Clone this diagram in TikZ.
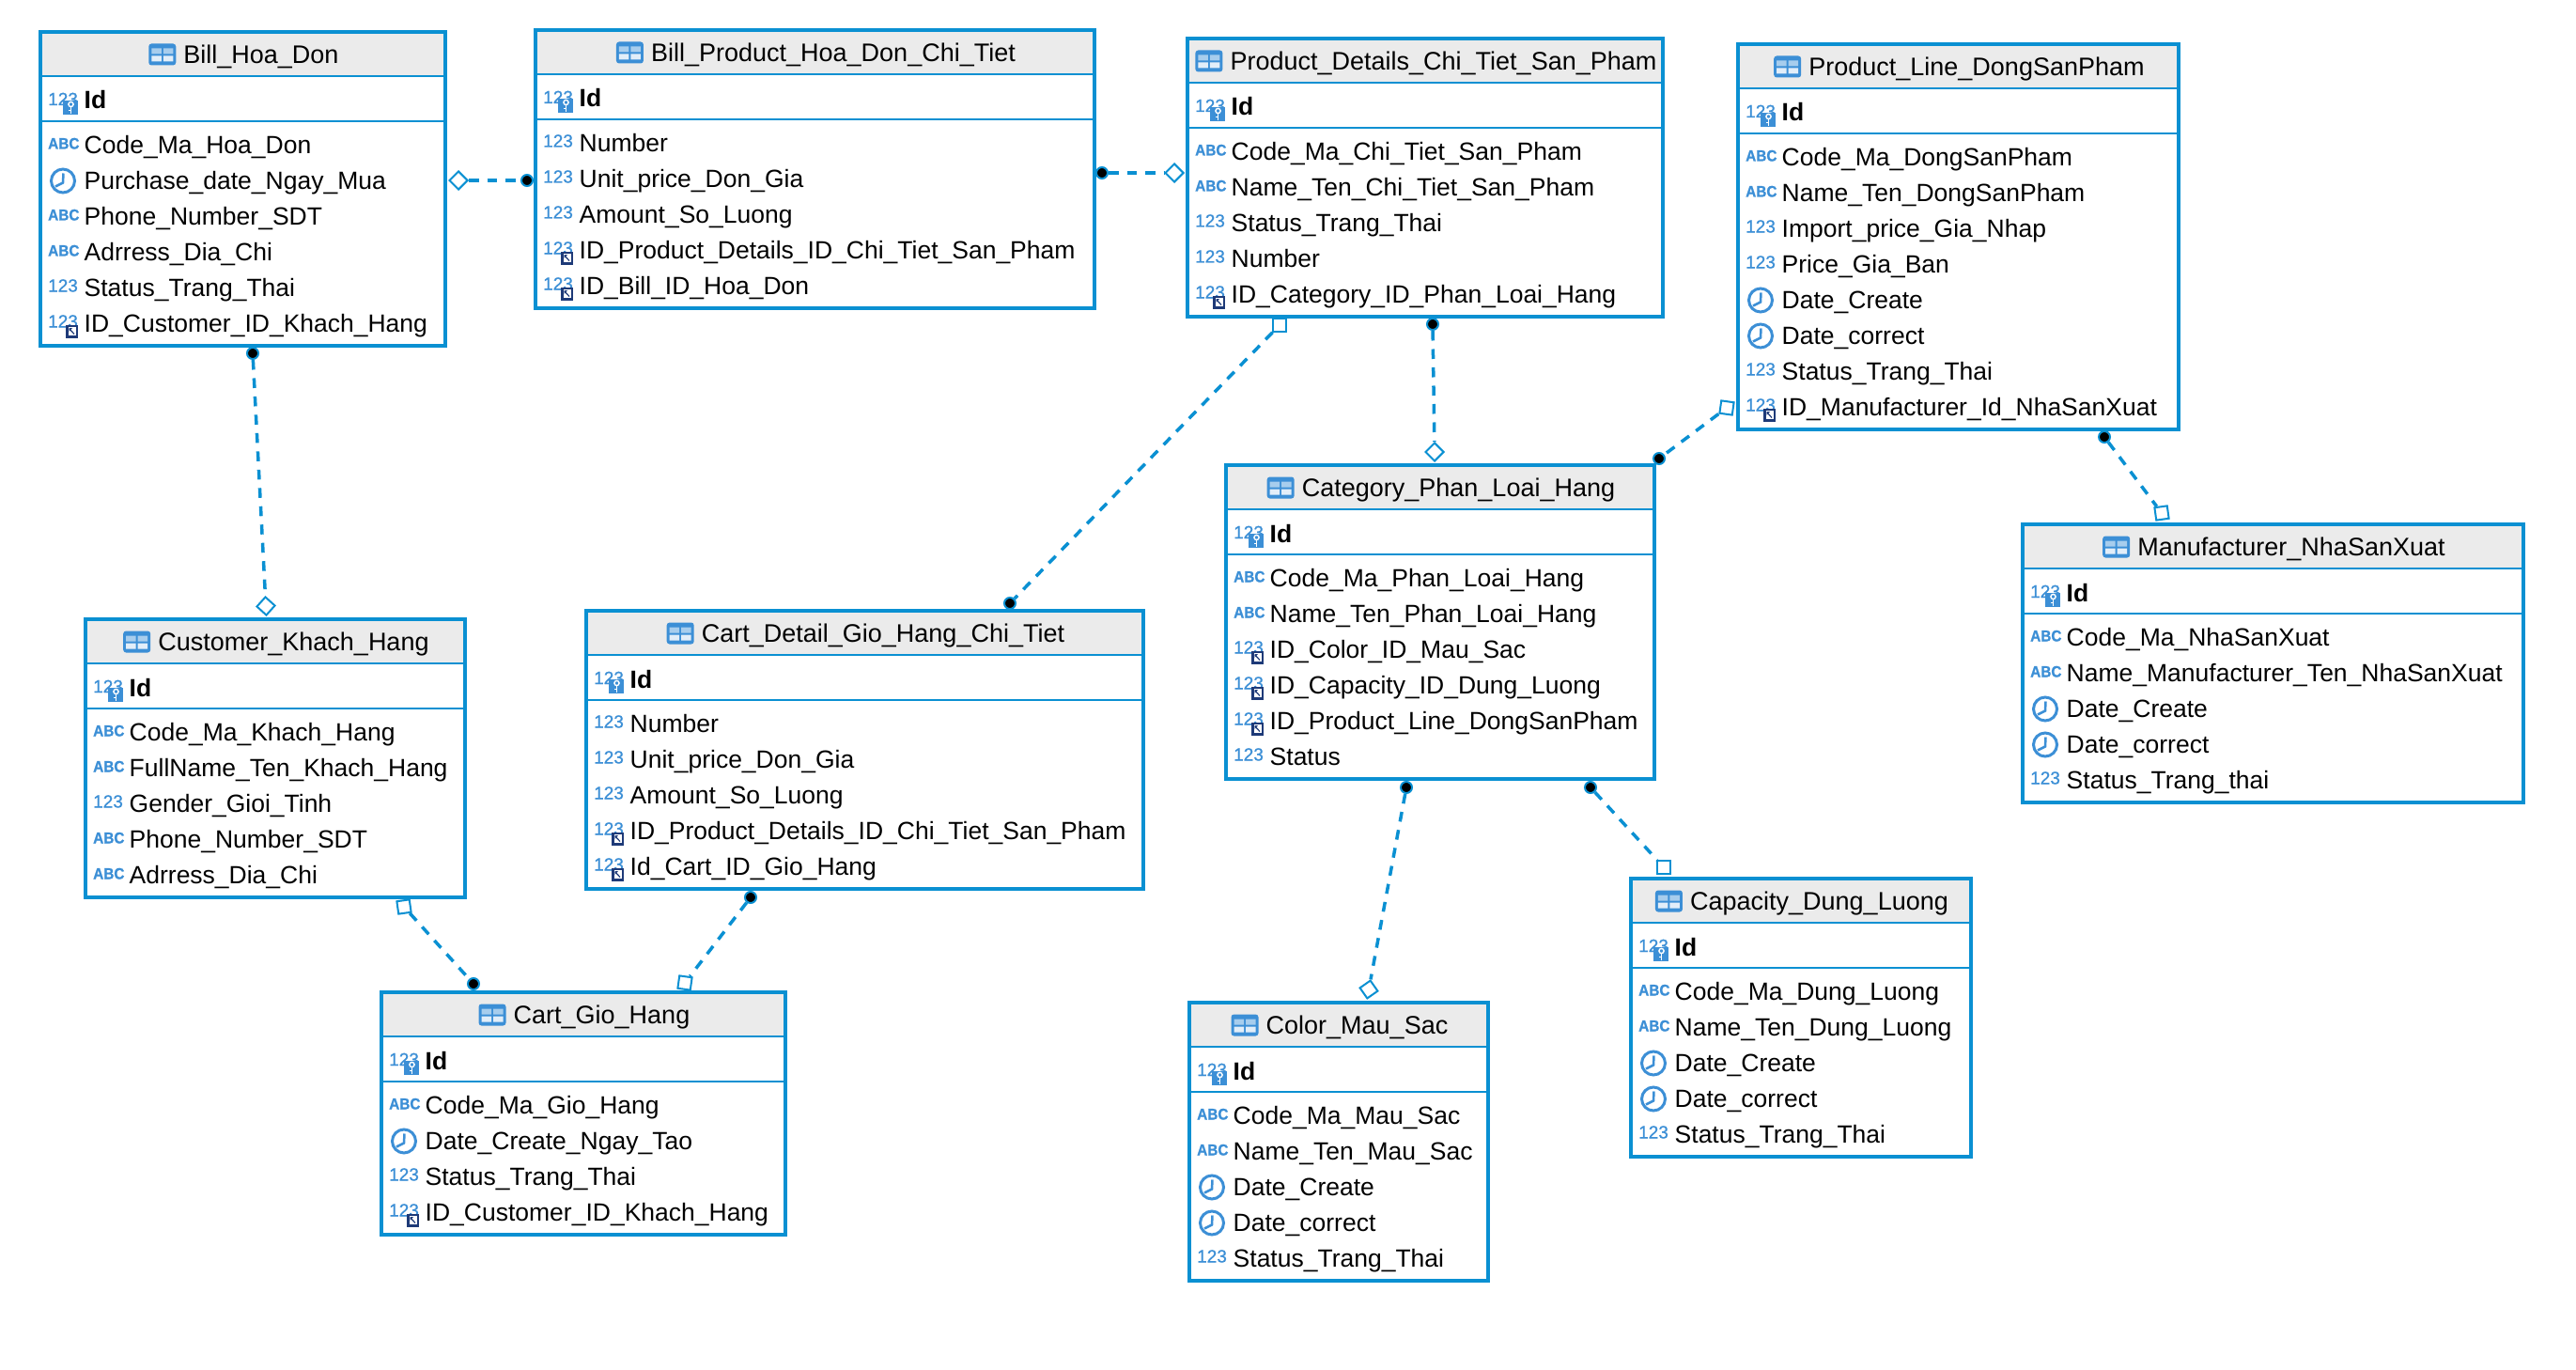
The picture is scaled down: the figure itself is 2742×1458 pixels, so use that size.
\documentclass[tikz,border=0pt]{standalone}
\usepackage{fontspec}
\setmainfont{Liberation Sans}
\newfontfamily\numfont[FakeBold=0.8]{Liberation Sans}
\newfontfamily\abcfont[FakeStretch=0.92,FakeBold=1]{Liberation Sans Bold}
\usetikzlibrary{shapes.geometric,calc}
\definecolor{erblue}{HTML}{0A90D2}
\definecolor{icblue}{HTML}{3C8FD6}
\definecolor{fknavy}{HTML}{1E3A78}
\definecolor{hdr}{HTML}{EBEBEB}
\newcommand\rowfont{\fontsize{26.5}{32}\selectfont}
\newcommand\ttlfont{\fontsize{27}{32}\selectfont}
\tikzset{
  tblbox/.style={draw=erblue,line width=4pt,fill=white,anchor=north west,inner sep=0pt,outer sep=0pt},
  sepline/.style={draw=erblue,line width=2.5pt},
  rowtext/.style={anchor=base west,inner sep=0pt,font=\rowfont,text=black},
  titletext/.style={anchor=base,inner sep=0pt,font=\ttlfont,text=black},
  icontxt/.style={inner sep=0pt,text=icblue,anchor=base west},
  reldash/.style={draw=erblue,line width=3.5pt,dash pattern=on 10.5pt off 9pt},
  reldot/.style={circle,fill=black,draw=erblue,line width=2pt,minimum size=12pt,inner sep=0pt},
  reldia/.style={diamond,draw=erblue,fill=white,line width=2pt,minimum width=20pt,minimum height=20pt,inner sep=0pt,aspect=1},
  relsq/.style={rectangle,draw=erblue,fill=white,line width=2pt,minimum size=13.5pt,inner sep=0pt},
}
\newcommand\iconnum{\node[icontxt,font=\fontsize{19}{20}\numfont] at (8,4) {123};}
\newcommand\iconabc{\node[icontxt,font=\fontsize{16.7}{18}\abcfont] at (8,4) {ABC};}
\newcommand\iconclock{\draw[icblue,line width=3pt] (24,0) circle (12.5);
  \draw[icblue,line width=2.5pt] (24.5,-8) -- (24,2) -- (16,6);}
\newcommand\iconpk{\node[icontxt,font=\fontsize{19}{20}\numfont] at (8,4) {123};
  \fill[icblue] (24,-1) rectangle (40,14);
  \draw[white,line width=1.4pt] (32.5,3) circle (2.6);
  \draw[white,line width=1.6pt] (32.5,6) -- (32.5,13) (32.5,9.5) -- (29.5,9.5);}
\newcommand\iconfk{\node[icontxt,font=\fontsize{19}{20}\numfont] at (8,4) {123};
  \fill[fknavy] (27,1) rectangle (40,15);
  \fill[white] (29.5,3.5) rectangle (37.5,12.5);
  \draw[fknavy,line width=1.2pt] (31,5.5) -- (36,11);
  \fill[fknavy] (30.5,4.5) -- (34,4.5) -- (30.5,8.5) -- cycle;}
\newcommand\ertable[7]{% name, L, R, T, title, nrows, rows
  \pgfmathsetmacro\myB{#4+143.5+38*(#6-1)}
  \pgfmathsetmacro\myW{#3-#2}
  \pgfmathsetmacro\myH{\myB-#4}
  \pgfmathsetmacro\myC{(#2+#3)/2}
  \node[tblbox,minimum width=\myW pt,minimum height=\myH pt] (#1) at (#2,#4) {};
  \fill[hdr] (#2,#4) rectangle (#3,#4+47);
  \draw[sepline] (#2,#4+47) -- (#3,#4+47);
  \draw[sepline] (#2,#4+95) -- (#3,#4+95);
  \draw[erblue,line width=4pt] (#1.north west) rectangle (#1.south east);
  \node[titletext] (#1-title) at (\myC+19.5,#4+33.5) {#5};
  \begin{scope}[shift={(#1-title.base west)}]
    \fill[icblue,rounded corners=3pt] (-37,-21) rectangle (-8,2);
    \fill[icblue!45!white] (-34,-16) rectangle (-23.5,-10) (-21.5,-16) rectangle (-11,-10);
    \fill[icblue!15!white] (-34,-8) rectangle (-23.5,-2) (-21.5,-8) rectangle (-11,-2);
  \end{scope}
  \begin{scope}[shift={(#2,#4+74)}]
    \iconpk
  \end{scope}
  \node[rowtext,font=\rowfont\bfseries] (#1-id) at (#2+46.5,#4+82) {Id};
  \foreach \knd/\txt [count=\i] in {#7}{
    \pgfmathsetmacro\yy{#4+120.5+38*(\i-1)}
    \begin{scope}[shift={(#2,\yy)}]
      \csname icon\knd\endcsname
    \end{scope}
    \node[rowtext] (#1-r\i) at (#2+46.5,\yy+9) {\txt};
  }
}
\begin{document}
\begin{tikzpicture}[x=1pt,y=-1pt]
\useasboundingbox (0,0) rectangle (2742,1458);
\ertable{bill}{43}{474}{34}{Bill\_Hoa\_Don}{6}{abc/Code\_Ma\_Hoa\_Don,clock/Purchase\_date\_Ngay\_Mua,abc/Phone\_Number\_SDT,abc/Adrress\_Dia\_Chi,num/Status\_Trang\_Thai,fk/ID\_Customer\_ID\_Khach\_Hang}
\ertable{bp}{570}{1165}{32}{Bill\_Product\_Hoa\_Don\_Chi\_Tiet}{5}{num/Number,num/Unit\_price\_Don\_Gia,num/Amount\_So\_Luong,fk/ID\_Product\_Details\_ID\_Chi\_Tiet\_San\_Pham,fk/ID\_Bill\_ID\_Hoa\_Don}
\ertable{pd}{1264}{1770}{41}{Product\_Details\_Chi\_Tiet\_San\_Pham}{5}{abc/Code\_Ma\_Chi\_Tiet\_San\_Pham,abc/Name\_Ten\_Chi\_Tiet\_San\_Pham,num/Status\_Trang\_Thai,num/Number,fk/ID\_Category\_ID\_Phan\_Loai\_Hang}
\ertable{pl}{1850}{2319}{47}{Product\_Line\_DongSanPham}{8}{abc/Code\_Ma\_DongSanPham,abc/Name\_Ten\_DongSanPham,num/Import\_price\_Gia\_Nhap,num/Price\_Gia\_Ban,clock/Date\_Create,clock/Date\_correct,num/Status\_Trang\_Thai,fk/ID\_Manufacturer\_Id\_NhaSanXuat}
\ertable{cust}{91}{495}{659}{Customer\_Khach\_Hang}{5}{abc/Code\_Ma\_Khach\_Hang,abc/FullName\_Ten\_Khach\_Hang,num/Gender\_Gioi\_Tinh,abc/Phone\_Number\_SDT,abc/Adrress\_Dia\_Chi}
\ertable{cd}{624}{1217}{650}{Cart\_Detail\_Gio\_Hang\_Chi\_Tiet}{5}{num/Number,num/Unit\_price\_Don\_Gia,num/Amount\_So\_Luong,fk/ID\_Product\_Details\_ID\_Chi\_Tiet\_San\_Pham,fk/Id\_Cart\_ID\_Gio\_Hang}
\ertable{cat}{1305}{1761}{495}{Category\_Phan\_Loai\_Hang}{6}{abc/Code\_Ma\_Phan\_Loai\_Hang,abc/Name\_Ten\_Phan\_Loai\_Hang,fk/ID\_Color\_ID\_Mau\_Sac,fk/ID\_Capacity\_ID\_Dung\_Luong,fk/ID\_Product\_Line\_DongSanPham,num/Status}
\ertable{man}{2153}{2686}{558}{Manufacturer\_NhaSanXuat}{5}{abc/Code\_Ma\_NhaSanXuat,abc/Name\_Manufacturer\_Ten\_NhaSanXuat,clock/Date\_Create,clock/Date\_correct,num/Status\_Trang\_thai}
\ertable{cart}{406}{836}{1056}{Cart\_Gio\_Hang}{4}{abc/Code\_Ma\_Gio\_Hang,clock/Date\_Create\_Ngay\_Tao,num/Status\_Trang\_Thai,fk/ID\_Customer\_ID\_Khach\_Hang}
\ertable{cap}{1736}{2098}{935}{Capacity\_Dung\_Luong}{5}{abc/Code\_Ma\_Dung\_Luong,abc/Name\_Ten\_Dung\_Luong,clock/Date\_Create,clock/Date\_correct,num/Status\_Trang\_Thai}
\ertable{col}{1266}{1584}{1067}{Color\_Mau\_Sac}{5}{abc/Code\_Ma\_Mau\_Sac,abc/Name\_Ten\_Mau\_Sac,clock/Date\_Create,clock/Date\_correct,num/Status\_Trang\_Thai}
% connector ends
\node[reldot] (e1a) at (269,376) {};
\node[reldia,rotate=3] (e1b) at (283,645) {};
\node[reldot] (e2a) at (561,192) {};
\node[reldia] (e2b) at (488,192) {};
\node[reldot] (e3a) at (1173,184) {};
\node[reldia] (e3b) at (1250,184) {};
\node[relsq] (e4a) at (1362,346) {};
\node[reldot] (e4b) at (1075,642) {};
\node[reldot] (e5a) at (1525,345) {};
\node[reldia] (e5b) at (1527,481) {};
\node[relsq,rotate=-8] (e6a) at (1838,434) {};
\node[reldot] (e6b) at (1766,488) {};
\node[reldot] (e7a) at (2240,465) {};
\node[relsq,rotate=8] (e7b) at (2301,546) {};
\node[reldot] (e8a) at (1497,838) {};
\node[reldia,rotate=-10] (e8b) at (1457,1053) {};
\node[reldot] (e9a) at (1693,838) {};
\node[relsq] (e9b) at (1771,923) {};
\node[relsq,rotate=8] (e10a) at (430,965) {};
\node[reldot] (e10b) at (504,1047) {};
\node[reldot] (e11a) at (799,955) {};
\node[relsq,rotate=-8] (e11b) at (729,1046) {};
\foreach \a/\b in {e1a/e1b,e2b/e2a,e3a/e3b,e4a/e4b,e5a/e5b,e6a/e6b,e7a/e7b,e8a/e8b,e9a/e9b,e10a/e10b,e11a/e11b}
  \draw[reldash] (\a) -- (\b);
\end{tikzpicture}
\end{document}
